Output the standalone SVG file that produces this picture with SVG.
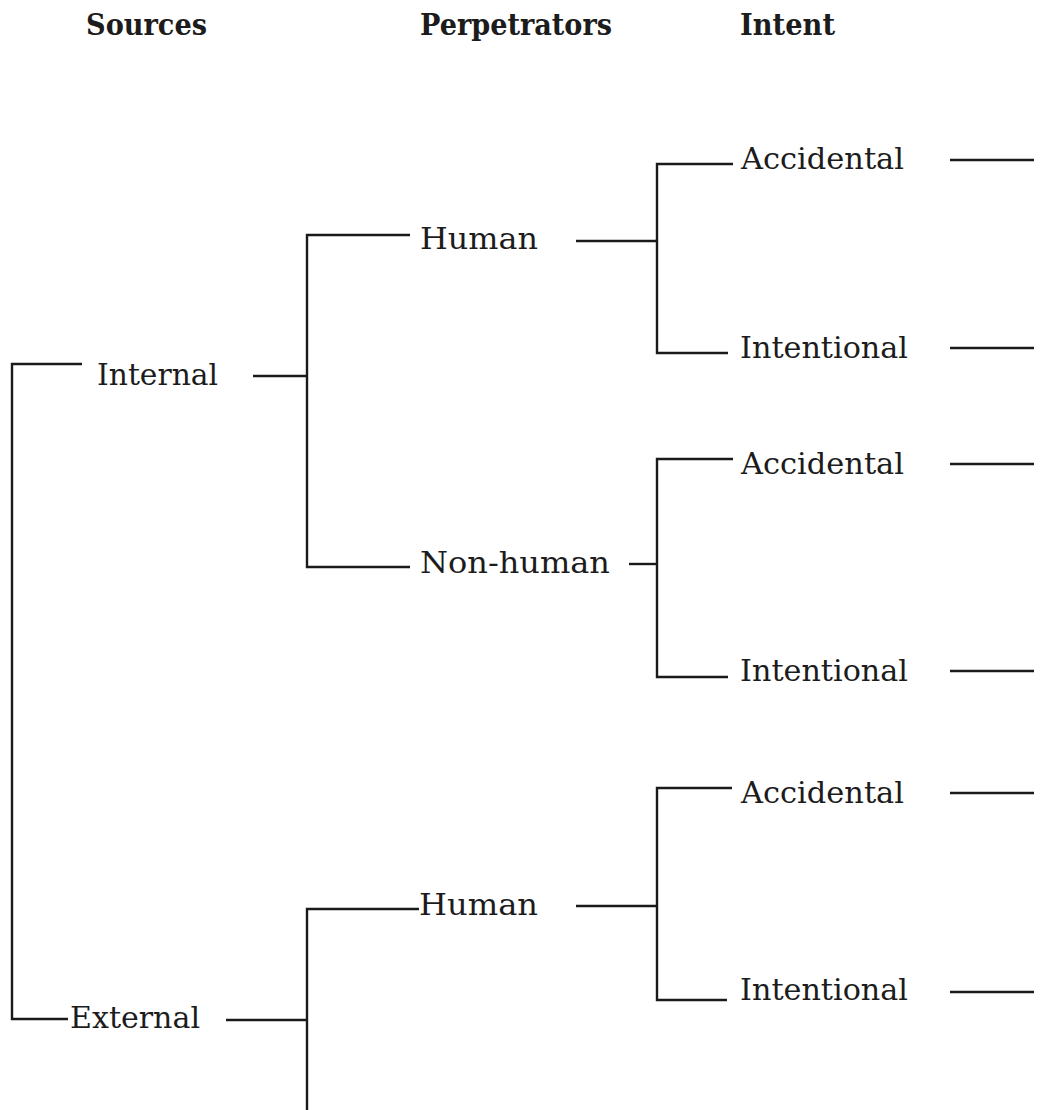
<svg xmlns="http://www.w3.org/2000/svg" width="1051" height="1110" viewBox="0 0 1051 1110">
  <style>
    .bg { fill: #ffffff; }
    .head { font-family: "DejaVu Serif", "Liberation Serif", serif; font-size: 30px; font-weight: bold; fill: #1c1c1c; }
    .label { font-family: "DejaVu Serif", "Liberation Serif", serif; font-size: 30px; fill: #1c1c1c; }
    .link { fill: none; stroke: #1a1a1a; stroke-width: 2.4; stroke-linecap: butt; stroke-linejoin: miter; }
  </style>
  <rect class="bg" x="0" y="0" width="1051" height="1110"/>

  <!-- column headings -->
  <g id="headings">
    <text class="head" x="86" y="35" textLength="121" lengthAdjust="spacingAndGlyphs">Sources</text>
    <text class="head" x="420" y="35" textLength="192" lengthAdjust="spacingAndGlyphs">Perpetrators</text>
    <text class="head" x="740" y="35" textLength="95" lengthAdjust="spacingAndGlyphs">Intent</text>
  </g>

  <!-- tree connectors -->
  <g id="connectors">
    <path class="link" d="M82,364 H12 V1019 H68"/>
    <path class="link" d="M253,376 H307"/>
    <path class="link" d="M410,235 H307 V567 H410"/>
    <path class="link" d="M576,241 H657"/>
    <path class="link" d="M733,164 H657 V353 H728"/>
    <path class="link" d="M629,564 H657"/>
    <path class="link" d="M733,459 H657 V677 H728"/>
    <path class="link" d="M226,1020 H307"/>
    <path class="link" d="M419,909 H307 V1110"/>
    <path class="link" d="M576,906 H657"/>
    <path class="link" d="M732,788 H657 V1000 H727"/>
    <path class="link" d="M950,160 H1034"/>
    <path class="link" d="M950,348 H1034"/>
    <path class="link" d="M950,464 H1034"/>
    <path class="link" d="M950,671 H1034"/>
    <path class="link" d="M950,793 H1034"/>
    <path class="link" d="M950,992 H1034"/>
  </g>

  <!-- sources -->
  <g id="internal"><text class="label" x="97" y="385" textLength="121" lengthAdjust="spacingAndGlyphs">Internal</text></g>
  <g id="external"><text class="label" x="70" y="1028" textLength="130" lengthAdjust="spacingAndGlyphs">External</text></g>

  <!-- perpetrators -->
  <g id="internal-human"><text class="label" x="420" y="249" textLength="118" lengthAdjust="spacingAndGlyphs">Human</text></g>
  <g id="internal-nonhuman"><text class="label" x="420" y="573" textLength="190" lengthAdjust="spacingAndGlyphs">Non-human</text></g>
  <g id="external-human"><text class="label" x="419" y="915" textLength="119" lengthAdjust="spacingAndGlyphs">Human</text></g>

  <!-- intent -->
  <g id="ih-accidental"><text class="label" x="741" y="169" textLength="163" lengthAdjust="spacingAndGlyphs">Accidental</text></g>
  <g id="ih-intentional"><text class="label" x="740" y="358" textLength="168" lengthAdjust="spacingAndGlyphs">Intentional</text></g>
  <g id="inh-accidental"><text class="label" x="741" y="474" textLength="163" lengthAdjust="spacingAndGlyphs">Accidental</text></g>
  <g id="inh-intentional"><text class="label" x="740" y="681" textLength="168" lengthAdjust="spacingAndGlyphs">Intentional</text></g>
  <g id="eh-accidental"><text class="label" x="741" y="803" textLength="163" lengthAdjust="spacingAndGlyphs">Accidental</text></g>
  <g id="eh-intentional"><text class="label" x="740" y="1000" textLength="168" lengthAdjust="spacingAndGlyphs">Intentional</text></g>
</svg>
